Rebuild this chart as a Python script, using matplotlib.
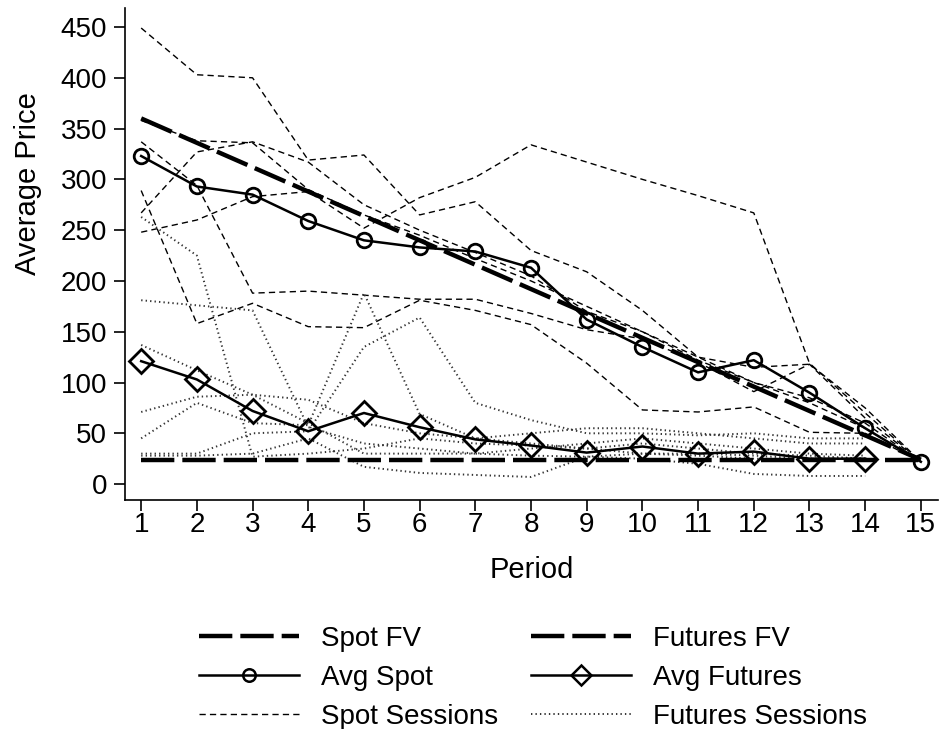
import numpy as np
import matplotlib
matplotlib.use("Agg")
import matplotlib.pyplot as plt
from matplotlib.lines import Line2D

plt.rcParams['font.family'] = ['Liberation Sans', 'DejaVu Sans']

periods = np.arange(1, 16)
fut_periods = np.arange(1, 15)

spot_fv = [360, 336, 312, 288, 264, 240, 216, 192, 168, 144, 120, 96, 72, 48, 24]
futures_fv = [24] * 15

avg_spot = [323, 293, 285, 259, 240, 233, 229, 213, 162, 135, 110, 122, 90, 55, 22]
avg_futures = [121, 103, 72, 52, 70, 56, 44, 38, 31, 37, 30, 32, 25, 25]

# individual spot sessions
spot_a = [449, 403, 400, 319, 324, 265, 278, 230, 209, 171, 125, 115, 118, 75, 22]
spot_b = [337, 294, 188, 190, 186, 182, 182, 168, 152, 143, 120, 91, 118, 65, 22]
spot_c = [289, 158, 178, 155, 154, 181, 171, 157, 119, 73, 71, 76, 51, 50, 22]
spot_d = [248, 260, 283, 288, 252, 282, 302, 334, 317, 300, 284, 267, 119, 70, 22]
spot_e = [267, 327, 337, 317, 275, 250, 228, 205, 170, 150, 122, 100, 80, 55, 22]
spot_f = [358, 338, 336, 290, 265, 245, 222, 200, 175, 150, 125, 100, 85, 60, 22]
spot_sessions = [spot_a, spot_b, spot_c, spot_d, spot_e, spot_f]

# individual futures sessions
fut_a = [181, 176, 171, 56, 40, 35, 30, 28, 27, 30, 28, 25, 25, 25]
fut_b = [263, 225, 27, 30, 35, 45, 40, 38, 35, 40, 35, 30, 28, 25]
fut_c = [137, 112, 88, 60, 30, 30, 30, 35, 40, 45, 40, 35, 30, 28]
fut_d = [71, 86, 88, 83, 60, 50, 45, 50, 55, 55, 50, 45, 40, 40]
fut_e = [45, 80, 60, 58, 188, 69, 45, 40, 35, 30, 30, 28, 25, 25]
fut_f = [30, 30, 50, 52, 135, 164, 80, 63, 50, 50, 48, 50, 45, 45]
fut_g = [28, 28, 30, 45, 17, 11, 9, 7, 27, 25, 20, 10, 8, 8]
fut_sessions = [fut_a, fut_b, fut_c, fut_d, fut_e, fut_f, fut_g]

yticks = np.arange(0, 451, 50)

fig = plt.figure(figsize=(9.4, 7.29), dpi=100)
ax = fig.add_axes([0.133, 0.314, 0.865, 0.675])

sess_kw = dict(color='black', lw=1.0, dashes=(4.5, 3))
fut_kw = dict(color='#333333', lw=1.4, dashes=(0.7, 1.6))

for s in spot_sessions:
    ax.plot(periods, s, **sess_kw)
for s in fut_sessions:
    ax.plot(fut_periods, s, **fut_kw)

fv_kw = dict(color='black', lw=3.2, dashes=(7.5, 1.8))
ax.plot(periods, spot_fv, **fv_kw)
ax.plot(periods, futures_fv, **fv_kw)

ax.plot(periods, avg_spot, color='black', lw=1.8, marker='o', ms=10.5,
        mfc='none', mec='black', mew=2)
ax.plot(fut_periods, avg_futures, color='black', lw=1.8, marker='D', ms=12,
        mfc='none', mec='black', mew=2)

ax.set_xlim(0.71, 15.31)
ax.set_ylim(-15.75, 468.7)
ax.set_xticks(periods)
ax.set_yticks(yticks)
ax.tick_params(axis='both', labelsize=20, length=8, width=1.2, direction='out')
ax.tick_params(axis='y', pad=5)
ax.tick_params(axis='x', pad=0.5)
for side in ['top', 'right']:
    ax.spines[side].set_visible(False)
for side in ['left', 'bottom']:
    ax.spines[side].set_linewidth(1.2)

ax.set_ylabel('Average Price', fontsize=21)
ax.yaxis.set_label_coords(-0.102, 0.644)
ax.set_xlabel('Period', fontsize=21, labelpad=13)

handles = [
    Line2D([], [], **fv_kw),
    Line2D([], [], color='black', lw=1.8, marker='o', ms=9, mfc='none', mew=1.8),
    Line2D([], [], **sess_kw),
    Line2D([], [], **fv_kw),
    Line2D([], [], color='black', lw=1.8, marker='D', ms=10, mfc='none', mew=1.8),
    Line2D([], [], **fut_kw),
]
labels = ['Spot FV', 'Avg Spot', 'Spot Sessions',
          'Futures FV', 'Avg Futures', 'Futures Sessions']
fig.legend(handles, labels, loc='upper center', bbox_to_anchor=(0.567, 0.141),
           ncol=2, frameon=False, fontsize=20, handlelength=3.6,
           handletextpad=0.8, columnspacing=1.2, labelspacing=0.46,
           borderaxespad=0, borderpad=0)

fig.savefig('out.png', dpi=100)
